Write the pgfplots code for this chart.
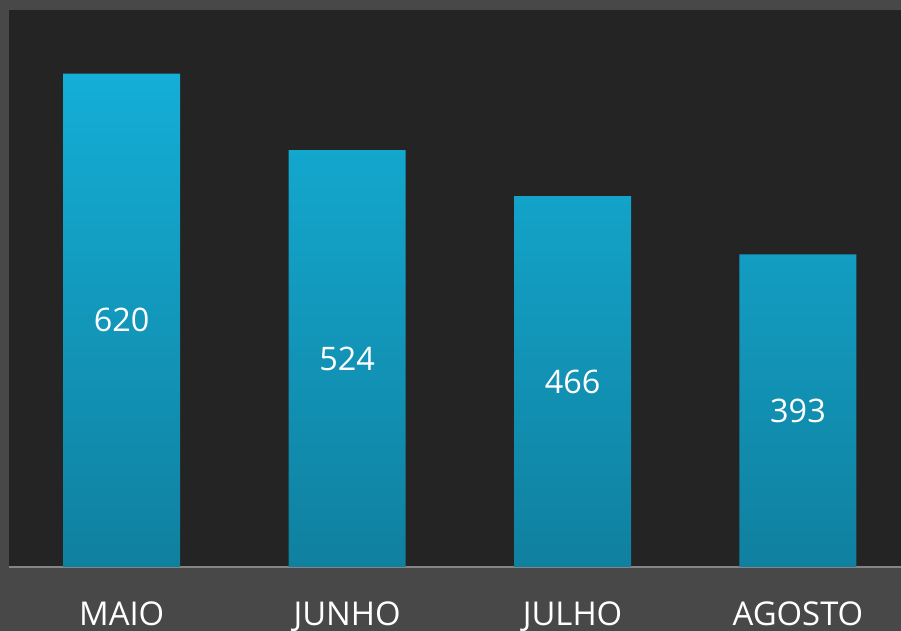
\documentclass[border=0pt]{standalone}
\usepackage{fontspec}
\setmainfont{Open Sans}
\usepackage{pgfplots}
\pgfplotsset{compat=1.18}
\definecolor{outerbg}{HTML}{484848}
\definecolor{innerbg}{HTML}{242424}
\definecolor{bartop}{HTML}{14AED6}
\definecolor{barbot}{HTML}{10809F}
\definecolor{axisgray}{HTML}{858585}
\begin{document}
\begin{tikzpicture}
\path[use as bounding box] (0pt,0pt) rectangle (450.5pt,315.5pt);
\fill[outerbg] (0pt,0pt) rectangle (450.5pt,315.5pt);
\begin{axis}[
    at={(4.5pt,32pt)}, anchor=south west,
    width=446pt, height=278.5pt, scale only axis,
    xmin=-0.5, xmax=3.457, ymin=0, ymax=700,
    axis background/.style={fill=innerbg},
    axis x line*=bottom, axis y line=none,
    x axis line style={-, axisgray, line width=1pt},
    xtick={0,1,2,3},
    xticklabels={MAIO,JUNHO,JULHO,AGOSTO},
    major tick length=0pt,
    xticklabel style={text=white, font=\fontsize{16.4}{19}\selectfont, anchor=base, yshift=-29.5pt},
    ytick=\empty,
    ybar, bar width=58.5pt,
    /pgf/number format/assume math mode=true,
    nodes near coords,
    visualization depends on={y \as \rawy},
    every node near coord/.append style={text=white, font=\fontsize{16.2}{19}\selectfont,
        anchor=center, shift={(axis direction cs:0,-\rawy/2)}},
]
\addplot[draw=none, top color=bartop, bottom color=barbot]
coordinates {(0,620) (1,524) (2,466) (3,393)};
\end{axis}
\end{tikzpicture}
\end{document}
